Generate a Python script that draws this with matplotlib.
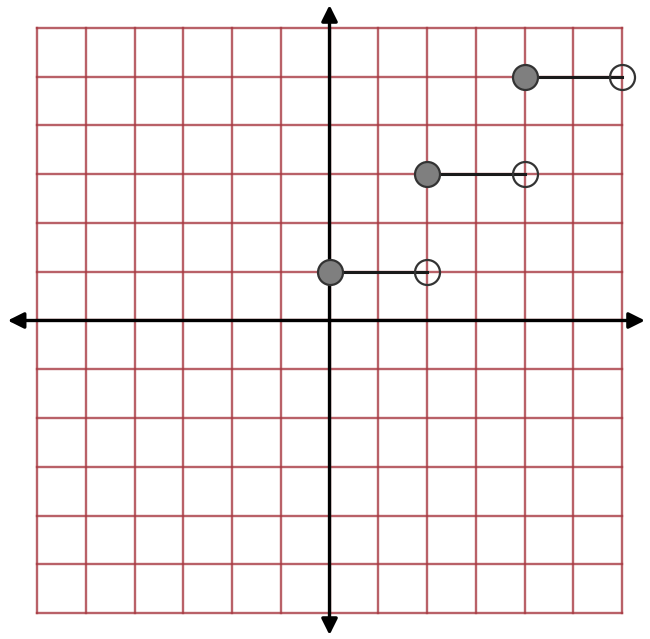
import numpy as np
import matplotlib
matplotlib.use("Agg")
import matplotlib.pyplot as plt

# step function pieces: closed at left, open at right
x_start = [0, 2, 4]
x_end = [2, 4, 6]
y_level = [1, 3, 5]

grid_ticks = np.arange(-6, 7)

GRID_COLOR = "#a83a42"

fig = plt.figure(figsize=(6.5, 6.39), dpi=100)
ax = fig.add_axes([0, 0, 1, 1])
ax.set_xlim(-6.759, 6.574)
ax.set_ylim(-6.533, 6.574)
ax.axis("off")

# grid
for v in grid_ticks:
    ax.plot([v, v], [-6, 6], color=GRID_COLOR, lw=1.7, alpha=0.8, zorder=1)
    ax.plot([-6, 6], [v, v], color=GRID_COLOR, lw=1.7, alpha=0.8, zorder=1)

# axes with arrows
arrow = dict(arrowstyle="<|-|>", lw=2.4, color="black",
             mutation_scale=24, shrinkA=0, shrinkB=0)
ax.annotate("", xy=(6.47, 0), xytext=(-6.6, 0), arrowprops=arrow, zorder=3)
ax.annotate("", xy=(0, 6.47), xytext=(0, -6.45), arrowprops=arrow, zorder=3)

# segments
for xs, xe, y in zip(x_start, x_end, y_level):
    ax.plot([xs, xe], [y, y], color="#1a1a1a", lw=2.2, zorder=4)
    ax.plot(xs, y, "o", ms=18, mfc="#7f7f7f", mec="#333333", mew=1.6, zorder=5)
    ax.plot(xe, y, "o", ms=18, mfc="none", mec="#333333", mew=1.6, zorder=5)

fig.savefig("out.png", dpi=100, facecolor="white")
